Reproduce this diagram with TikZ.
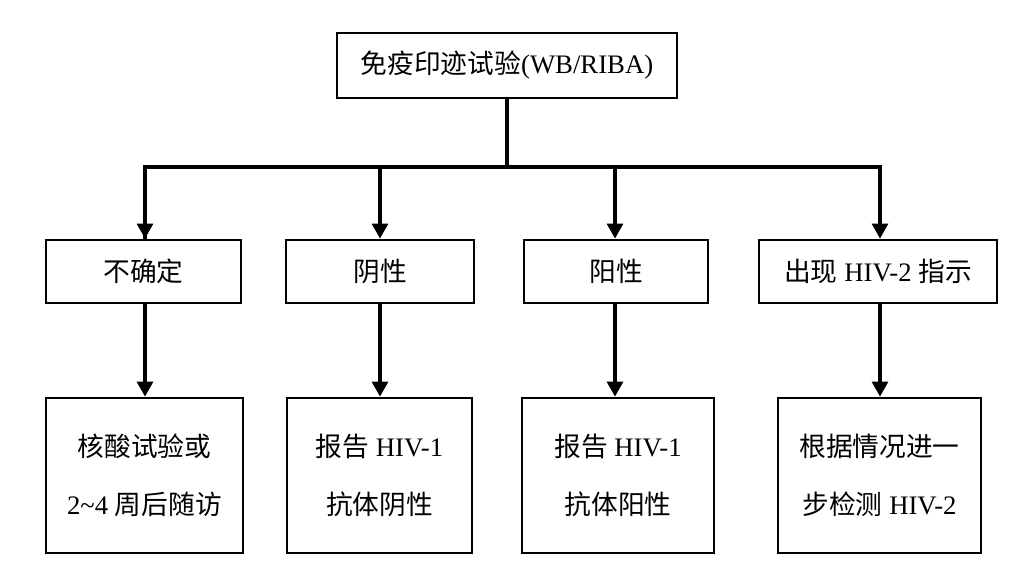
\documentclass[tikz,border=0pt]{standalone}
\usepackage{fontspec}
\setmainfont{Liberation Serif}
\newfontfamily\cjk{Noto Sans CJK SC}
\usepackage{tikz}
\usetikzlibrary{arrows.meta, positioning}
\newcommand{\zh}[1]{{\cjk #1}}
\tikzset{flowbox/.style={draw, line width=2pt, rectangle, align=center, inner sep=0pt,
    font=\fontsize{19}{41}\selectfont}}
\tikzset{flowline/.style={line width=2.2pt}}
\tikzset{flowarrow/.style={flowline, -{Triangle[length=15pt*0.025/0.0353, width=16pt*0.025/0.0353]}}}

\begin{document}
\begin{tikzpicture}[x=0.025cm, y=-0.025cm]
	\useasboundingbox (0,0) rectangle (1019,585);
	% top test
	\node [flowbox, minimum width=340*0.025cm, minimum height=65*0.025cm] (wb) at (507,65.5) {\zh{免疫印迹试验}(WB/RIBA)};
	% results
	\node [flowbox, minimum width=195*0.025cm, minimum height=63*0.025cm] (unc) at (143.5,271.5) {\zh{不确定}};
	\node [flowbox, minimum width=188*0.025cm, minimum height=63*0.025cm] (neg) at (380,271.5) {\zh{阴性}};
	\node [flowbox, minimum width=184*0.025cm, minimum height=63*0.025cm] (pos) at (616,271.5) {\zh{阳性}};
	\node [flowbox, minimum width=238*0.025cm, minimum height=63*0.025cm] (hivtwo) at (878,271.5) {\zh{出现} HIV-2 \zh{指示}};
	% what to do next
	\node [flowbox, minimum width=197*0.025cm, minimum height=155*0.025cm] (uncnext) at (144.5,475.5) {\zh{核酸试验或}\\2\textasciitilde 4 \zh{周后随访}};
	\node [flowbox, minimum width=185*0.025cm, minimum height=155*0.025cm] (negnext) at (379.5,475.5) {\zh{报告} HIV-1\\\zh{抗体阴性}};
	\node [flowbox, minimum width=192*0.025cm, minimum height=155*0.025cm] (posnext) at (618,475.5) {\zh{报告} HIV-1\\\zh{抗体阳性}};
	\node [flowbox, minimum width=203*0.025cm, minimum height=155*0.025cm] (hivtwonext) at (879.5,475.5) {\zh{根据情况进一}\\\zh{步检测} HIV-2};
	% connectors
	\coordinate (bus) at (507,167);
	\draw [flowline] (wb.south) -- (bus);
	\draw [flowline] (bus) -| (unc.north -| 145,0) coordinate (busleft);
	\draw [flowarrow] (bus -| 145,0) -- (unc.north -| 145,0);
	\draw [flowarrow] (bus -| 380,0) -- (neg.north -| 380,0);
	\draw [flowarrow] (bus -| 615,0) -- (pos.north -| 615,0);
	\draw [flowarrow] (bus) -| (hivtwo.north -| 880,0);
	\draw [flowarrow] (unc.south -| 145,0) -- (uncnext.north -| 145,0);
	\draw [flowarrow] (neg.south -| 380,0) -- (negnext.north -| 380,0);
	\draw [flowarrow] (pos.south -| 615,0) -- (posnext.north -| 615,0);
	\draw [flowarrow] (hivtwo.south -| 880,0) -- (hivtwonext.north -| 880,0);
\end{tikzpicture}
\end{document}
